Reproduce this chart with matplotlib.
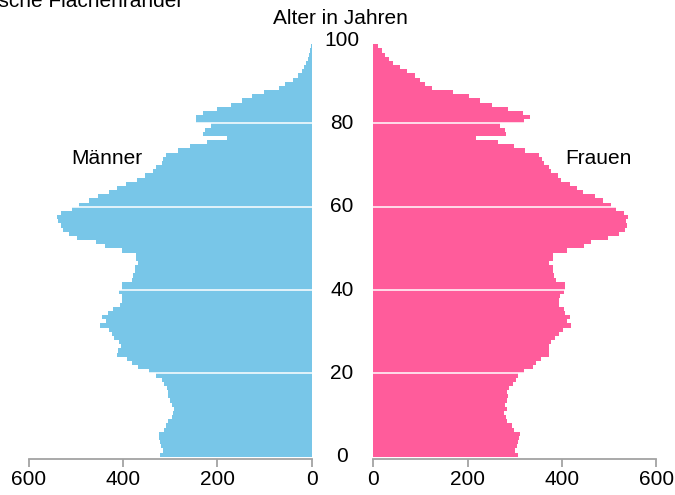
import matplotlib
matplotlib.use("Agg")
import matplotlib.pyplot as plt
import matplotlib.transforms as mtransforms
import numpy as np

plt.rcParams['font.family'] = ['Liberation Sans', 'DejaVu Sans']

# Altersjahre 0..98
ages = np.arange(0, 99)

maenner = [
    321, 316, 320, 321, 323, 323, 313, 309, 304, 297,
    295, 293, 297, 300, 304, 304, 307, 313, 318, 330,
    346, 368, 382, 392, 412, 410, 404, 408, 419, 424,
    429, 449, 436, 444, 431, 422, 406, 403, 403, 408,
    403, 403, 382, 378, 375, 375, 368, 372, 372, 403,
    438, 457, 498, 515, 528, 532, 537, 541, 532, 508,
    494, 473, 454, 429, 413, 394, 371, 353, 336, 330,
    318, 316, 309, 283, 257, 223, 180, 230, 226, 214,
    246, 246, 230, 200, 172, 148, 126, 101, 69, 57,
    39, 30, 21, 16, 12, 8, 6, 4, 2,
]

frauen = [
    307, 301, 305, 307, 308, 310, 299, 294, 283, 282,
    278, 283, 280, 283, 285, 283, 287, 296, 303, 307,
    319, 339, 344, 356, 372, 372, 372, 376, 386, 393,
    402, 419, 411, 417, 407, 404, 393, 393, 395, 404,
    406, 406, 388, 383, 381, 381, 373, 381, 381, 411,
    446, 462, 497, 521, 533, 538, 535, 540, 531, 514,
    504, 487, 469, 444, 432, 417, 398, 391, 376, 372,
    361, 358, 351, 321, 298, 264, 218, 282, 280, 268,
    320, 333, 317, 285, 252, 227, 202, 170, 124, 110,
    99, 89, 71, 57, 42, 33, 25, 18, 11,
]

x_ticks = [0, 200, 400, 600]
y_ticks = [0, 20, 40, 60, 80, 100]

blue = '#78c6e8'
pink = '#ff5c9b'
axis_grey = '#a3a3a3'

W, H = 675, 495
fig = plt.figure(figsize=(W / 100, H / 100), dpi=100)

bottom = (H - 459) / H
height = (459 - 40) / H
ax_m = fig.add_axes([28.7 / W, bottom, 283 / W, height])
ax_f = fig.add_axes([373.3 / W, bottom, 283 / W, height])

ax_m.barh(ages, maenner, height=1.0, align='edge', color=blue, linewidth=0)
ax_f.barh(ages, frauen, height=1.0, align='edge', color=pink, linewidth=0)

for ax in (ax_m, ax_f):
    ax.set_ylim(-0.55, 100)
    ax.set_xticks(x_ticks)
    ax.set_yticks([])
    for s in ('top', 'left', 'right'):
        ax.spines[s].set_visible(False)
    ax.spines['bottom'].set_color(axis_grey)
    ax.spines['bottom'].set_linewidth(1.3)
    ax.tick_params(axis='x', length=6, width=1.3, color=axis_grey,
                   labelsize=15, labelcolor='black', pad=2)
    # weisse Linien ueber den Balken
    for g in y_ticks[1:-1]:
        ax.axhline(g, color='white', linewidth=1.1, zorder=3)

ax_m.set_xlim(600, 0)
ax_f.set_xlim(0, 600)

# Alterslabels in der Mitte
trans = mtransforms.blended_transform_factory(fig.transFigure, ax_f.transData)
for t in y_ticks:
    fig.text(342 / W, t, str(t), transform=trans, ha='center', va='center', fontsize=15)

fig.text(340 / W, 1 - 18 / H, 'Alter in Jahren', ha='center', va='center', fontsize=15)
fig.text(107 / W, 1 - 158 / H, 'Männer', ha='center', va='center', fontsize=15)
fig.text(598 / W, 1 - 158 / H, 'Frauen', ha='center', va='center', fontsize=15)
fig.text(183 / W, 1 - 7 / H, 'Symmetrische Flächenränder', ha='right', va='baseline', fontsize=15)

fig.savefig('out.png', dpi=100)
